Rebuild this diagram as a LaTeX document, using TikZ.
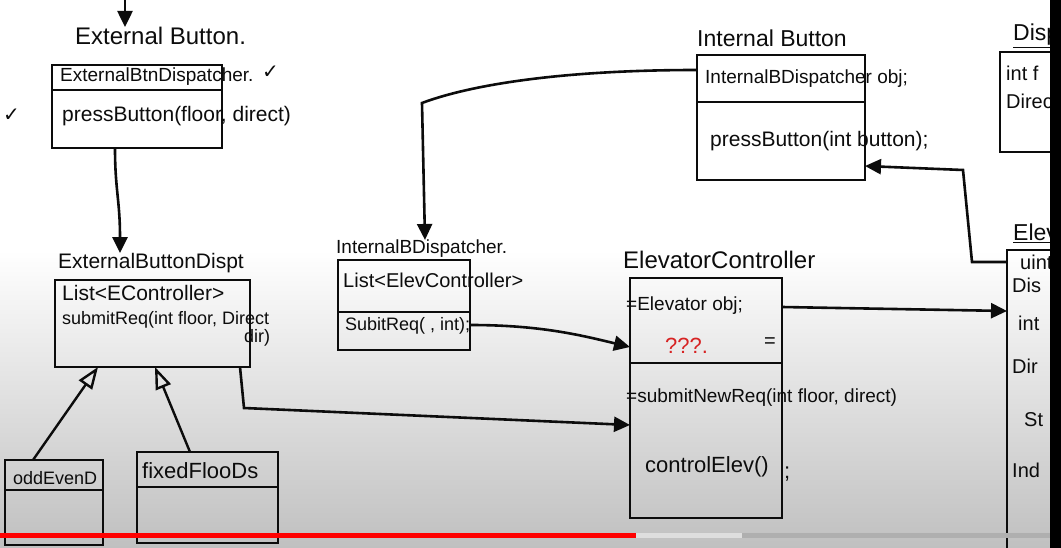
\documentclass[tikz,border=0pt]{standalone}
\usepackage{fontspec}
\setmainfont{Liberation Sans}
\newfontfamily\symf{DejaVu Sans}
\usetikzlibrary{arrows.meta,calc}
\definecolor{bgb}{RGB}{192,192,192}
\definecolor{ink}{RGB}{12,12,12}
\definecolor{redink}{RGB}{215,35,35}
\definecolor{barlight}{RGB}{222,222,222}
\definecolor{bardark}{RGB}{175,175,175}
\newcommand{\fs}[1]{\fontsize{#1}{#1}\selectfont}
\begin{document}
\begin{tikzpicture}[x=1pt,y=-1pt,
  box/.style={draw=ink, line width=2.6pt, inner sep=0pt, outer sep=0pt, anchor=north west},
  sep/.style={draw=ink, line width=2.4pt},
  txt/.style={anchor=west, inner sep=0pt, text=ink, font=\fs{20}},
  ttl/.style={txt, font=\fs{23}},
  conn/.style={draw=ink, line width=2.6pt, -{Triangle[length=16pt,width=15pt]}},
  gen/.style={draw=ink, line width=2.4pt, -{Triangle[open,length=22pt,width=16pt]}},
]
\useasboundingbox (0,0) rectangle (1061,548);
\fill[white] (0,0) rectangle (1061,548);
\shade[top color=white, bottom color=bgb] (0,250) rectangle (1061,548);

% ---------- External Button ----------
\node[ttl, font=\fs{24}] (t1) at (75,36) {External Button.};
\node[box, minimum width=170pt, minimum height=83pt] (eb) at (52,65) {};
\draw[sep] (eb.west |- 0,90) -- (eb.east |- 0,90);
\node[txt, font=\fs{19}] (eb1) at (60,77) {ExternalBtnDispatcher.};
\node[txt, font=\symf\fs{20}] (ck1) at (262,72) {✓};
\node[txt, font=\fs{21}] (eb2) at (62,116) {pressButton(floor, direct)};
\node[txt, font=\symf\fs{20}] (ck2) at (3,115) {✓};

% ---------- External Button Dispatcher ----------
\node[ttl, font=\fs{21}] (t2) at (58,263) {ExternalButtonDispt};
\node[box, minimum width=195pt, minimum height=87pt] (ebd) at (55,280) {};
\node[txt, font=\fs{21}] (ebd1) at (62,293) {List<EController>};
\node[txt, font=\fs{18}] (ebd2) at (62,320) {submitReq(int floor, Direct};
\node[txt, font=\fs{18}] (ebd3) at (244,338) {dir)};

% ---------- subclasses ----------
\node[box, minimum width=98pt, minimum height=85pt] (odd) at (5,460) {};
\draw[sep] (odd.west |- 0,490) -- (odd.east |- 0,490);
\node[txt, font=\fs{18}] (odd1) at (13,478) {oddEvenD};
\node[box, minimum width=141pt, minimum height=91pt] (fix) at (137,452) {};
\draw[sep] (fix.west |- 0,487) -- (fix.east |- 0,487);
\node[txt, font=\fs{22}] (fix1) at (142,471) {fixedFlooDs};

% ---------- Internal Button Dispatcher ----------
\node[ttl, font=\fs{19}] (t3) at (336,249) {InternalBDispatcher.};
\node[box, minimum width=132pt, minimum height=90pt] (ibd) at (338,260) {};
\draw[sep] (ibd.west |- 0,312) -- (ibd.east |- 0,312);
\node[txt, font=\fs{20}] (ibd1) at (343,280) {List<ElevController>};
\node[txt, font=\fs{18}] (ibd2) at (345,326) {SubitReq( , int);};

% ---------- Elevator Controller ----------
\node[ttl, font=\fs{24}] (t4) at (623,260) {ElevatorController};
\node[box, minimum width=152pt, minimum height=240pt] (ec) at (630,278) {};
\draw[sep] (ec.west |- 0,363) -- (ec.east |- 0,363);
\node[txt, font=\fs{19}] (ec1) at (626,306) {=Elevator obj;};
\node[txt, text=redink, font=\fs{22}] (ec2) at (665,346) {???.};
\node[txt] (ec3) at (764,343) {=};
\node[txt, font=\fs{19}] (ec4) at (626,398) {=submitNewReq(int floor, direct)};
\node[txt, font=\fs{22}] (ec5) at (645,467) {controlElev()};
\node[txt, font=\fs{22}] (ec6) at (784,474) {;};

% ---------- Internal Button ----------
\node[ttl, font=\fs{23}] (t5) at (697,38) {Internal Button};
\node[box, minimum width=168pt, minimum height=125pt] (ib) at (697,55) {};
\draw[sep] (ib.west |- 0,102) -- (ib.east |- 0,102);
\node[txt, font=\fs{19}] (ib1) at (705,79) {InternalBDispatcher obj;};
\node[txt, font=\fs{21}] (ib2) at (710,141) {pressButton(int button);};

% ---------- right side, cut by the frame ----------
\node[ttl] (t6) at (1013,36) {\underline{Disp}};
\node[box, minimum width=90pt, minimum height=100pt] (disp) at (1000,52) {};
\node[txt] (d1) at (1006,73) {int f};
\node[txt] (d2) at (1006,101) {Direc};
\node[ttl] (t7) at (1013,233) {\underline{Elev}};
\node[box, minimum width=90pt, minimum height=310pt] (elev) at (1007,250) {};
\node[txt] (e1) at (1020,262) {uint};
\node[txt] (e2) at (1012,285) {Dis};
\node[txt] (e3) at (1018,323) {int};
\node[txt] (e4) at (1012,366) {Dir};
\node[txt] (e5) at (1024,420) {St};
\node[txt] (e6) at (1012,470) {Ind};

% ---------- connectors ----------
\coordinate (topin) at (125,0);
\draw[conn] (topin) -- (topin |- t1.north);
\draw[conn] (eb.south -| 115,0) .. controls (115,190) and (120,200) .. (t2.north -| 120,0);
\draw[gen] (odd.north -| 33,0) -- (ebd.south -| 98,0);
\draw[gen] (fix.north -| 190,0) -- (ebd.south -| 155,0);
\draw[conn] (ib.west |- 0,70) .. controls (560,70) and (470,85) .. (422,103) -- (t3.north -| 425,0);
\draw[conn] (ibd.east |- 0,325) .. controls (540,325) and (580,335) .. (ec.west |- 0,347);
\draw[conn] (ebd.south -| 240,0) -- (244,408) -- (ec.west |- 0,425);
\draw[conn] (ec.east |- 0,307) -- (elev.west |- 0,311);
\draw[conn] (elev.west |- 0,262) -- (972,262) -- (963,170) -- (ib.east |- 0,166);

% ---------- frame of the screenshot ----------
\fill[red] (0,533) rectangle (636,538);
\fill[barlight] (636,533) rectangle (742,538);
\fill[bardark] (742,533) rectangle (1050,538);
\fill[black] (1050,0) rectangle (1061,548);
\end{tikzpicture}
\end{document}
